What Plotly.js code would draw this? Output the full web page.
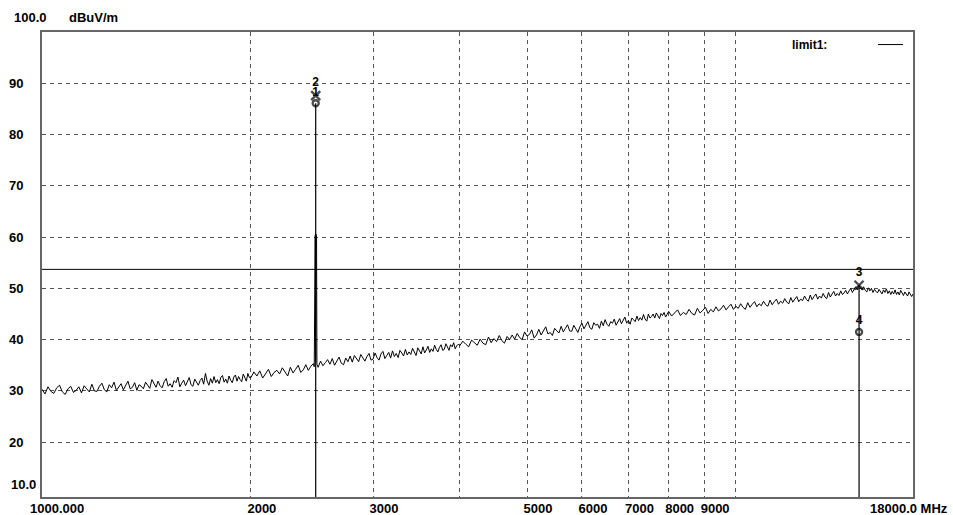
<!DOCTYPE html>
<html>
<head>
<meta charset="utf-8">
<script src="https://cdn.plot.ly/plotly-3.0.1.min.js"></script>
<style>html,body{margin:0;padding:0;background:#fff;}#chart{width:953px;height:515px;}</style>
</head>
<body>
<div id="chart"></div>
<script>
// Sweep frequencies (MHz)
var freq = [
 1000,1010,1020,1030,1040,1050,1060,1070,1080,1090,
 1100,1110,1120,1130,1140,1150,1160,1170,1180,1190,
 1200,1210,1220,1230,1240,1250,1260,1270,1280,1290,
 1300,1310,1320,1330,1340,1350,1360,1370,1380,1390,
 1400,1410,1420,1430,1440,1450,1460,1470,1480,1490,
 1500,1510,1520,1530,1540,1550,1560,1570,1580,1590,
 1600,1610,1620,1630,1640,1650,1660,1670,1680,1690,
 1700,1710,1720,1730,1740,1750,1760,1770,1780,1790,
 1800,1810,1820,1830,1840,1850,1860,1870,1880,1890,
 1900,1910,1920,1930,1940,1950,1960,1970,1980,1990,
 2000,2020,2040,2060,2080,2100,2120,2140,2160,2180,
 2200,2220,2240,2260,2280,2300,2320,2340,2360,2380,
 2400,2420,2440,2460,
 2468,2470,2473,2476,2479,2481,2484,2487,2490,
 2500,2520,2540,2560,2580,
 2600,2620,2640,2660,2680,2700,2720,2740,2760,2780,
 2800,2820,2840,2860,2880,2900,2920,2940,2960,2980,
 3000,3020,3040,3060,3080,3100,3120,3140,3160,3180,
 3200,3220,3240,3260,3280,3300,3320,3340,3360,3380,
 3400,3420,3440,3460,3480,3500,3520,3540,3560,3580,
 3600,3620,3640,3660,3680,3700,3720,3740,3760,3780,
 3800,3820,3840,3860,3880,3900,3920,3940,3960,3980,
 4000,4040,4080,4120,4160,4200,4240,4280,4320,4360,
 4400,4440,4480,4520,4560,4600,4640,4680,4720,4760,
 4800,4840,4880,4920,4960,5000,5040,5080,5120,5160,
 5200,5240,5280,5320,5360,5400,5440,5480,5520,5560,
 5600,5640,5680,5720,5760,5800,5840,5880,5920,5960,
 6000,6040,6080,6120,6160,6200,6240,6280,6320,6360,
 6400,6440,6480,6520,6560,6600,6640,6680,6720,6760,
 6800,6840,6880,6920,6960,7000,7040,7080,7120,7160,
 7200,7240,7280,7320,7360,7400,7440,7480,7520,7560,
 7600,7640,7680,7720,7760,7800,7840,7880,7920,7960,
 8000,8080,8160,8240,8320,8400,8480,8560,8640,8720,
 8800,8880,8960,9040,9120,9200,9280,9360,9440,9520,
 9600,9680,9760,9840,9920,10000,10080,10160,10240,10320,
 10400,10480,10560,10640,10720,10800,10880,10960,11040,11120,
 11200,11280,11360,11440,11520,11600,11680,11760,11840,11920,
 12000,12080,12160,12240,12320,12400,12480,12560,12640,12720,
 12800,12880,12960,13040,13120,13200,13280,13360,13440,13520,
 13600,13680,13760,13840,13920,14000,14080,14160,14240,14320,
 14400,14480,14560,14640,14720,14800,14880,14960,15040,15120,
 15200,15280,15360,15440,15520,15600,15680,15760,15840,15920,
 16000,16080,16160,16240,16320,16400,16480,16560,16640,16720,
 16800,16880,16960,17040,17120,17200,17280,17360,17440,17520,
 17600,17680,17760,17840,17920,
 18000
];
// Measured level (dBuV/m)
var level = [
 30.3,29.4,30.8,29.9,29.5,30.6,31.1,29.8,29.3,30.4,
 30.9,29.7,30.1,30.8,29.6,31.0,30.4,29.8,31.3,30.0,
 29.9,30.9,31.5,30.2,29.8,31.2,30.6,31.7,30.1,30.8,
 31.4,30.2,31.0,31.9,30.4,30.7,31.6,30.1,31.2,30.9,
 30.4,31.7,31.1,30.5,32.2,31.3,30.7,31.9,31.0,30.6,
 31.8,32.4,30.9,31.4,30.7,32.0,31.6,32.7,30.8,31.5,
 32.1,31.0,31.8,32.6,31.2,30.9,32.3,31.7,31.1,32.0,
 32.5,31.3,33.4,31.9,31.1,32.4,31.5,32.8,31.6,32.2,
 31.4,32.6,33.0,31.7,32.3,31.5,32.9,32.1,31.6,32.7,
 33.1,31.9,32.8,32.2,31.8,33.3,32.5,31.9,33.4,32.6,
 32.6,33.7,32.9,33.9,32.5,33.4,34.2,32.8,33.6,34.0,
 33.3,34.5,33.7,32.9,34.6,33.5,34.2,35.0,33.6,34.1,
 35.1,34.0,34.8,35.3,
 34.7,59.8,36.5,60.3,35.8,60.6,36.0,60.1,35.2,
 34.6,35.8,34.9,35.5,36.1,
 35.2,36.3,35.0,35.9,36.6,35.4,35.1,36.4,35.7,36.8,
 35.6,36.9,36.2,35.7,37.1,36.4,35.8,36.7,37.3,36.0,
 36.2,37.4,36.5,36.0,37.2,37.7,36.3,36.9,37.5,36.4,
 37.8,36.7,37.3,36.5,37.9,37.4,36.8,38.1,37.0,37.6,
 37.1,38.3,37.5,36.9,38.4,37.8,37.2,38.6,37.4,38.0,
 38.7,37.5,38.2,37.7,38.9,38.1,37.6,38.5,39.0,37.9,
 38.1,39.2,38.4,37.9,39.0,38.6,39.4,38.2,38.8,39.1,
 38.8,39.7,39.1,38.6,39.9,39.4,38.9,40.1,39.3,39.0,
 40.5,39.4,40.2,39.6,40.8,39.8,39.3,40.6,40.0,40.9,
 40.1,41.2,40.4,40.0,41.5,40.7,41.0,41.9,40.3,40.9,
 42.0,40.9,41.6,42.5,41.1,41.4,40.8,42.2,41.7,41.3,
 42.6,41.5,42.2,42.9,41.7,41.6,42.8,42.1,41.4,42.5,
 43.2,42.1,42.7,43.5,42.3,42.0,43.3,42.8,43.0,42.2,
 43.6,42.7,43.9,43.0,42.6,43.5,43.2,44.0,42.8,43.4,
 44.1,43.1,43.8,44.4,43.2,43.7,43.0,44.2,43.9,43.5,
 44.6,43.7,44.3,43.8,44.9,44.0,43.6,45.0,44.2,44.5,
 45.0,44.2,45.2,44.5,44.1,45.1,44.7,45.3,44.4,44.9,
 45.5,44.6,45.2,45.8,44.7,45.3,44.9,45.9,45.1,44.8,
 46.1,45.2,45.7,46.3,45.1,45.9,45.4,46.4,45.6,46.0,
 46.7,45.8,46.4,46.9,45.9,46.5,46.1,47.0,46.3,45.9,
 47.2,46.3,46.9,47.4,46.4,47.0,46.6,47.5,46.8,46.5,
 47.7,46.8,47.4,47.9,46.9,47.5,47.1,48.0,47.3,47.0,
 48.2,47.3,47.9,48.4,47.4,47.9,47.6,48.5,47.8,47.5,
 48.7,47.8,48.4,48.9,47.9,48.5,48.1,49.0,48.3,48.0,
 49.2,48.3,48.9,49.4,48.5,49.0,48.6,49.5,48.8,49.1,
 49.6,48.9,49.5,50.0,49.2,49.8,50.3,49.7,50.6,50.1,
 49.7,50.3,49.6,49.3,50.1,49.5,50.0,49.2,49.8,49.4,
 49.1,49.8,49.3,48.9,49.7,49.2,49.9,49.0,49.5,48.8,
 49.4,48.9,49.7,48.8,49.3,48.7,49.6,49.1,48.6,49.3,
 48.9,48.5,49.3,48.8,48.4,
 48.9
];
var limitFreq = [1000, 18000];
var limitLevel = [53.7, 53.7];
// Markers
var markerFreq = [2480, 2480, 15050, 15050];
var markerLevel = [86.1, 87.6, 50.6, 41.5];
var markerLabel = ['1', '2', '3', '4'];
var markerKind = ['avg', 'peak', 'peak', 'avg'];
// Axis ticks
var xTickVals = [2000, 3000, 4000, 5000, 6000, 7000, 8000, 9000, 10000];
var xTickText = ['2000', '3000', '', '5000', '6000', '7000', '8000', '9000', ''];
var yTickVals = [20, 30, 40, 50, 60, 70, 80, 90];
var yMin = 9.3, yMax = 100;

var FONT = 'Liberation Sans, Arial, Helvetica, sans-serif';

// vertical marker lines from the bottom of the plot up to each marker pair
var vx = [markerFreq[0], markerFreq[0], null, markerFreq[2], markerFreq[2]];
var vy = [yMin, Math.min(markerLevel[0], markerLevel[1]), null, yMin, Math.max(markerLevel[2], markerLevel[3])];

var traces = [
  {x: freq, y: level, type: 'scatter', mode: 'lines', line: {color: '#000', width: 1}},
  {x: limitFreq, y: limitLevel, type: 'scatter', mode: 'lines', name: 'limit1:', line: {color: '#000', width: 1}},
  {x: vx, y: vy, type: 'scatter', mode: 'lines', line: {color: '#000', width: 1.2}},
  {x: markerFreq, y: markerLevel, type: 'scatter', mode: 'markers+text', text: markerLabel,
   textposition: 'top center', textfont: {family: FONT, size: 12, color: '#000', weight: 'bold'},
   marker: {symbol: markerKind.map(function (k) { return k === 'peak' ? 'x-thin-open' : 'circle-open'; }),
            size: markerKind.map(function (k) { return k === 'peak' ? 9 : 6; }),
            color: '#000', line: {color: '#000', width: 2.4}}}
];

var annFont = {family: FONT, size: 13, color: '#000', weight: 'bold'};
var layout = {
  width: 953, height: 515,
  margin: {l: 42, r: 40, t: 32, b: 18},
  paper_bgcolor: '#fff', plot_bgcolor: '#fff',
  showlegend: false,
  xaxis: {
    type: 'log', range: [Math.log10(1000), Math.log10(18000)],
    tickvals: xTickVals, ticktext: xTickText, ticks: '',
    tickfont: {family: FONT, size: 13, color: '#000', weight: 'bold'},
    ticklabelshift: 11, ticklabelstandoff: -2,
    showgrid: true, gridcolor: '#555', griddash: '4px,4px', gridwidth: 1,
    showline: true, mirror: true, linecolor: '#666', linewidth: 2, zeroline: false
  },
  yaxis: {
    range: [yMin, yMax], tickvals: yTickVals, ticks: '',
    tickfont: {family: FONT, size: 13, color: '#000', weight: 'bold'},
    ticklabelstandoff: 14,
    showgrid: true, gridcolor: '#555', griddash: '4px,4px', gridwidth: 1,
    showline: true, mirror: true, linecolor: '#666', linewidth: 2, zeroline: false
  },
  annotations: [
    {text: '100.0', xref: 'paper', yref: 'paper', x: -0.0344, y: 1.032, xanchor: 'left', yanchor: 'middle', showarrow: false, font: annFont},
    {text: 'dBuV/m', xref: 'paper', yref: 'paper', x: 0.0287, y: 1.032, xanchor: 'left', yanchor: 'middle', showarrow: false, font: annFont},
    {text: '10.0', xref: 'paper', yref: 'paper', x: -0.0379, y: 0.026, xanchor: 'left', yanchor: 'middle', showarrow: false, font: annFont},
    {text: '1000.000', xref: 'paper', yref: 'paper', x: -0.016, y: -0.0237, xanchor: 'left', yanchor: 'middle', showarrow: false, font: annFont},
    {text: '18000.0 MHz', xref: 'paper', yref: 'paper', x: 1.0425, y: -0.0237, xanchor: 'right', yanchor: 'middle', showarrow: false, font: annFont},
    {text: 'limit1:', xref: 'paper', yref: 'paper', x: 0.8588, y: 0.972, xanchor: 'left', yanchor: 'middle', showarrow: false, font: {family: FONT, size: 12, color: '#000', weight: 'bold'}}
  ],
  shapes: [
    {type: 'line', xref: 'paper', yref: 'paper', x0: 0.9598, x1: 0.9885, y0: 0.973, y1: 0.973, line: {color: '#000', width: 1}}
  ]
};

Plotly.newPlot('chart', traces, layout, {staticPlot: true, displayModeBar: false});
</script>
</body>
</html>
